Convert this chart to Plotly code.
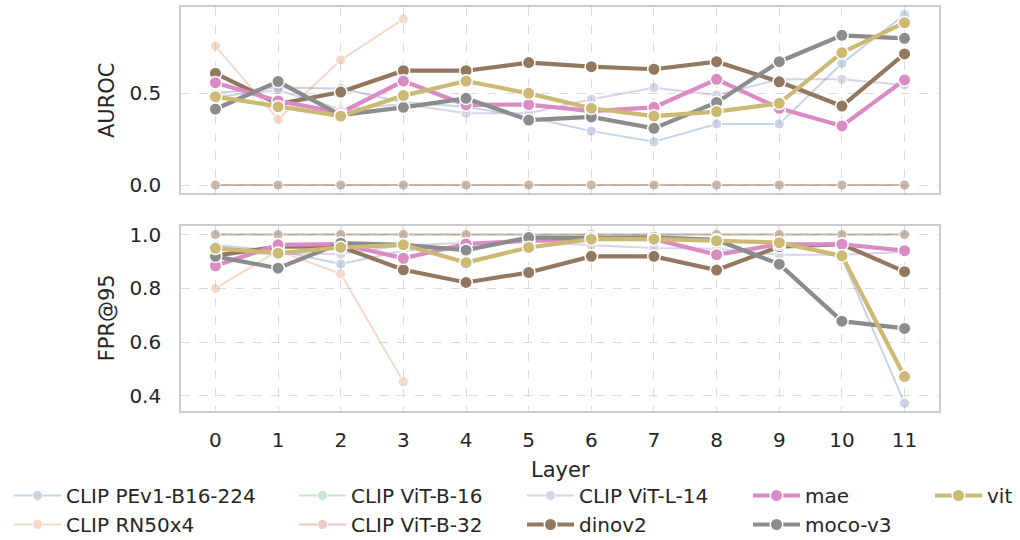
import plotly.graph_objects as go

layers = list(range(12))

model_names = ["CLIP PEv1-B16-224", "CLIP RN50x4", "CLIP ViT-B-16", "CLIP ViT-B-32",
               "CLIP ViT-L-14", "dinov2", "mae", "moco-v3", "vit"]

auroc_pev1 = [0.50, 0.53, 0.525, 0.45, 0.425, 0.37, 0.293, 0.235, 0.332, 0.332, 0.661, 0.925]
auroc_rn50x4 = [0.755, 0.357, 0.679, 0.902]
auroc_b16 = [0.0] * 12
auroc_b32 = [0.0] * 12
auroc_l14 = [0.48, 0.515, 0.41, 0.44, 0.39, 0.39, 0.466, 0.529, 0.489, 0.574, 0.574, 0.543]
auroc_dinov2 = [0.607, 0.44, 0.505, 0.621, 0.621, 0.665, 0.643, 0.629, 0.670, 0.561, 0.429, 0.712]
auroc_mae = [0.556, 0.457, 0.393, 0.565, 0.435, 0.437, 0.402, 0.422, 0.574, 0.417, 0.321, 0.571]
auroc_moco = [0.413, 0.562, 0.380, 0.422, 0.471, 0.353, 0.370, 0.308, 0.449, 0.670, 0.813, 0.797]
auroc_vit = [0.480, 0.426, 0.375, 0.486, 0.565, 0.498, 0.417, 0.375, 0.399, 0.444, 0.719, 0.882]

fpr_pev1 = [0.96, 0.94, 0.891, 0.94, 0.96, 0.98, 0.99, 0.99, 0.98, 0.97, 0.915, 0.373]
fpr_rn50x4 = [0.80, 0.94, 0.854, 0.453]
fpr_b16 = [1.0] * 12
fpr_b32 = [1.0] * 12
fpr_l14 = [0.93, 0.93, 0.928, 0.96, 0.97, 0.975, 0.96, 0.95, 0.947, 0.925, 0.925, 0.935]
fpr_dinov2 = [0.922, 0.955, 0.955, 0.869, 0.822, 0.859, 0.919, 0.919, 0.868, 0.955, 0.964, 0.862]
fpr_mae = [0.884, 0.962, 0.965, 0.912, 0.965, 0.977, 0.985, 0.983, 0.925, 0.964, 0.964, 0.940]
fpr_moco = [0.919, 0.875, 0.968, 0.962, 0.942, 0.989, 0.988, 0.990, 0.980, 0.890, 0.678, 0.651]
fpr_vit = [0.949, 0.931, 0.952, 0.962, 0.896, 0.952, 0.983, 0.983, 0.977, 0.970, 0.921, 0.472]

auroc_all = [auroc_pev1, auroc_rn50x4, auroc_b16, auroc_b32, auroc_l14,
             auroc_dinov2, auroc_mae, auroc_moco, auroc_vit]
fpr_all = [fpr_pev1, fpr_rn50x4, fpr_b16, fpr_b32, fpr_l14,
           fpr_dinov2, fpr_mae, fpr_moco, fpr_vit]

colors = ["#4C72B0", "#DD8452", "#55A868", "#C44E52", "#8172B3",
          "#937860", "#DA8BC3", "#8C8C8C", "#CCB974"]
is_clip = [True, True, True, True, True, False, False, False, False]
legend_ids = ["legend", "legend", "legend2", "legend2", "legend3",
              "legend3", "legend4", "legend4", "legend5"]

fig = go.Figure()
for i, name in enumerate(model_names):
    clip = is_clip[i]
    style = dict(
        mode="lines+markers",
        line=dict(color=colors[i], width=2 if clip else 4.2),
        marker=dict(color=colors[i], size=10 if clip else 12.5,
                    line=dict(color="white", width=1 if clip else 1.5)),
        opacity=0.3 if clip else 1.0,
    )
    fig.add_trace(go.Scatter(x=layers[:len(auroc_all[i])], y=auroc_all[i], name=name,
                             xaxis="x", yaxis="y",
                             legend=legend_ids[i], showlegend=True, **style))
    fig.add_trace(go.Scatter(x=layers[:len(fpr_all[i])], y=fpr_all[i], name=name,
                             xaxis="x2", yaxis="y2", showlegend=False, **style))

FS = 20
W, H = 1020, 540
ML, MR, MT, MB = 181, 81, 7, 129
PW, PH = W - ML - MR, H - MT - MB

axis_common = dict(
    showline=True, mirror=True, linecolor="#cccccc", linewidth=1.6,
    showgrid=True, gridcolor="#dcdcdc", griddash="dash", gridwidth=1,
    zeroline=False, ticks="",
    tickfont=dict(family="DejaVu Sans", size=FS, color="#262626"),
)

top_dom = [(411 - 193) / PH, 1.0]
bot_dom = [0.0, (411 - 225.7) / PH]

fig.update_layout(
    width=W, height=H,
    margin=dict(l=ML, r=MR, t=MT, b=MB, autoexpand=False),
    paper_bgcolor="white", plot_bgcolor="white",
    font=dict(family="DejaVu Sans", size=FS, color="#262626"),
    xaxis=dict(domain=[0, 1], range=[-0.55, 11.55], anchor="y",
               tickvals=layers, showticklabels=False, **axis_common),
    yaxis=dict(domain=top_dom, range=[-0.043, 0.967], anchor="x",
               tickvals=[0.0, 0.5], ticktext=["0.0", "0.5"],
               ticklabelstandoff=14, **axis_common),
    xaxis2=dict(domain=[0, 1], range=[-0.55, 11.55], anchor="y2",
                tickvals=layers, ticktext=[str(v) for v in layers],
                ticklabelstandoff=10, **axis_common),
    yaxis2=dict(domain=bot_dom, range=[0.344, 1.033], anchor="x2",
                tickvals=[0.4, 0.6, 0.8, 1.0], ticktext=["0.4", "0.6", "0.8", "1.0"],
                ticklabelstandoff=14, **axis_common),
)

title_font = dict(family="DejaVu Sans", size=21, color="#262626")
fig.add_annotation(text="AUROC", textangle=-90, xref="paper", yref="paper",
                   x=(107 - ML) / PW, y=(top_dom[0] + top_dom[1]) / 2,
                   xanchor="center", yanchor="middle", showarrow=False, font=title_font)
fig.add_annotation(text="FPR@95", textangle=-90, xref="paper", yref="paper",
                   x=(107 - ML) / PW, y=(bot_dom[0] + bot_dom[1]) / 2,
                   xanchor="center", yanchor="middle", showarrow=False, font=title_font)
fig.add_annotation(text="Layer", xref="paper", yref="paper",
                   x=0.5, y=-(470 - (H - MB)) / PH,
                   xanchor="center", yanchor="middle", showarrow=False, font=title_font)

leg_common = dict(orientation="v", xref="container", yref="container",
                  yanchor="top", xanchor="left", bgcolor="rgba(0,0,0,0)",
                  font=dict(family="DejaVu Sans", size=FS, color="#262626"),
                  itemwidth=47, tracegroupgap=0)
col_x = [9, 294, 522, 748, 930]
ytop = 1 - 476 / H
fig.update_layout(
    legend=dict(x=col_x[0] / W, y=ytop, **leg_common),
    legend2=dict(x=col_x[1] / W, y=ytop, **leg_common),
    legend3=dict(x=col_x[2] / W, y=ytop, **leg_common),
    legend4=dict(x=col_x[3] / W, y=ytop, **leg_common),
    legend5=dict(x=col_x[4] / W, y=ytop, **leg_common),
)

fig.write_html("out.html", config={"displayModeBar": False},
               post_script="document.body.style.margin='0';")
